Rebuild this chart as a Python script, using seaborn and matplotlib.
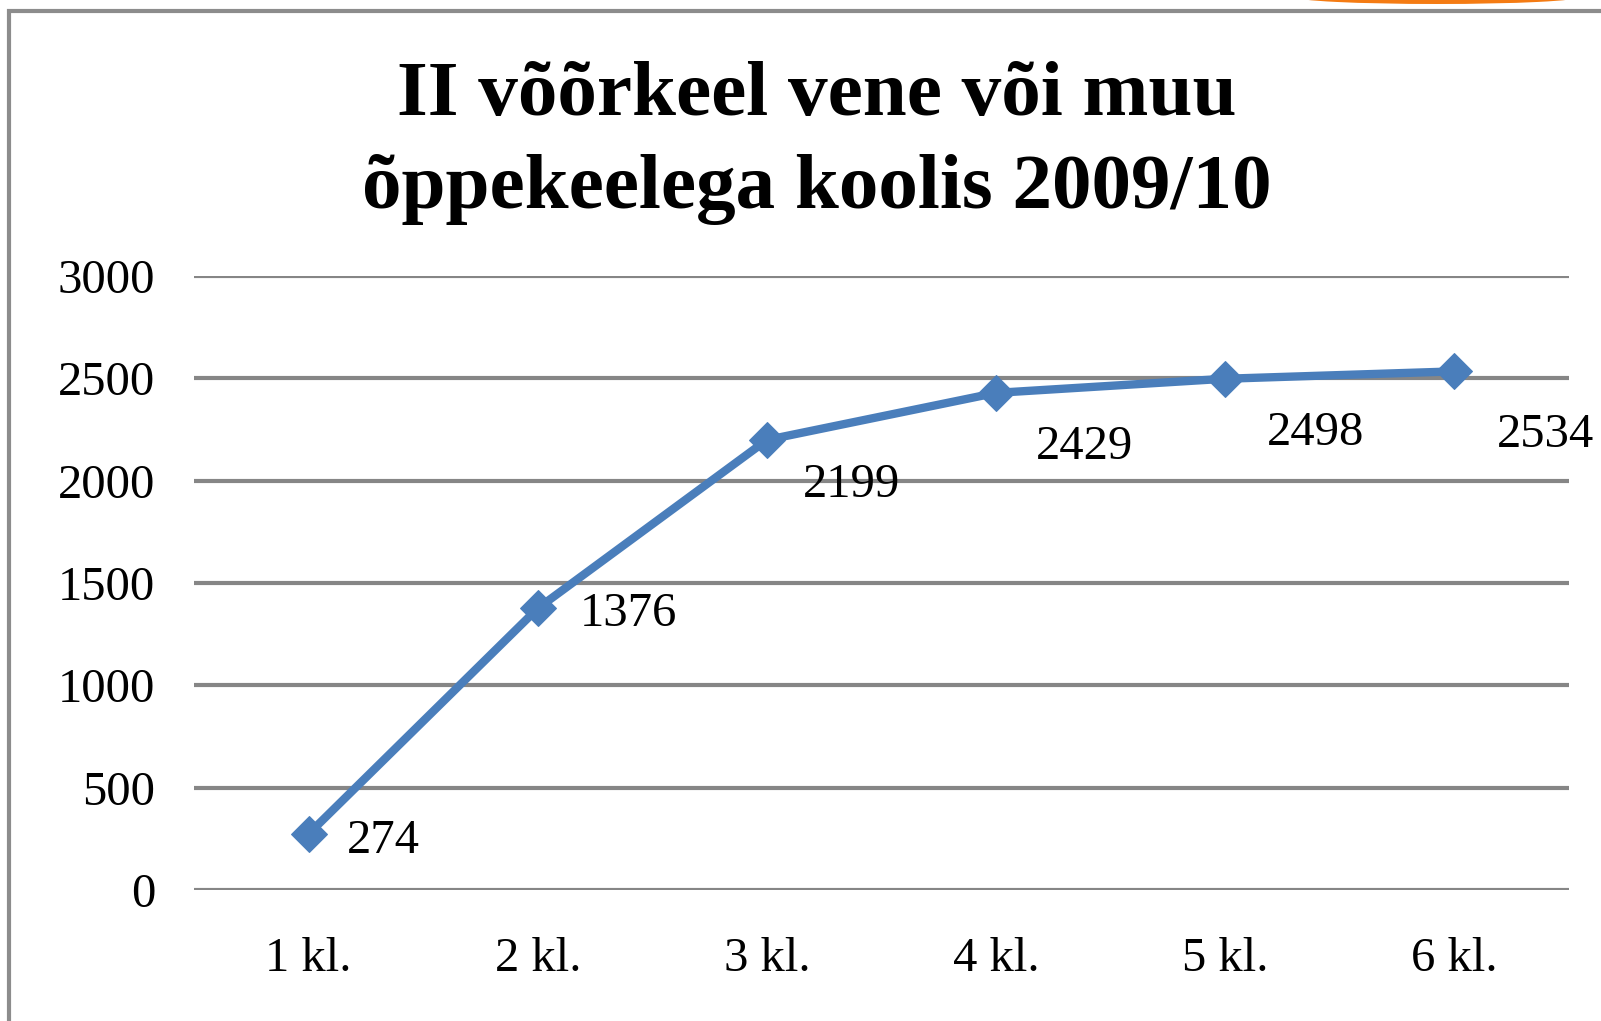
import matplotlib
matplotlib.use("Agg")
import matplotlib.pyplot as plt
import seaborn as sns
import pandas as pd
from matplotlib.patches import Rectangle, Ellipse

categories = ["1 kl.", "2 kl.", "3 kl.", "4 kl.", "5 kl.", "6 kl."]
values = [274, 1376, 2199, 2429, 2498, 2534]
yticks = [0, 500, 1000, 1500, 2000, 2500, 3000]
title = "II võõrkeel vene või muu\nõppekeelega koolis 2009/10"

# label offsets in pixels (dx, dy)
label_offsets = [(38, -7), (42, -6), (36, -45), (40, -54), (42, -54), (42, -64)]

sns.set_theme(style="white")
plt.rcParams["font.family"] = ["Liberation Serif", "DejaVu Serif"]

W, H = 1601, 1021
fig = plt.figure(figsize=(W / 100, H / 100), dpi=100)
fig.patch.set_facecolor("white")

ax = fig.add_axes([194 / W, 1 - 890 / H, (1569 - 194) / W, (890 - 276) / H])

df = pd.DataFrame({"klass": categories, "arv": values})
blue = "#4A7EBB"
sns.lineplot(data=df, x="klass", y="arv", ax=ax, color=blue, linewidth=6,
             marker="D", markersize=18, markeredgecolor=blue, markerfacecolor=blue,
             solid_joinstyle="round", solid_capstyle="round")

ax.set_xlim(-0.5, len(categories) - 0.5)
ax.set_ylim(0, 3000)
ax.set_yticks(yticks)
ax.set_yticklabels([str(v) for v in yticks])
ax.set_xlabel("")
ax.set_ylabel("")
for s in ax.spines.values():
    s.set_visible(False)
ax.grid(False)
for v in yticks:
    ax.axhline(v, color="#868686", linewidth=3, zorder=0)
ax.tick_params(axis="y", length=0, pad=28, labelsize=35, colors="black")
ax.tick_params(axis="x", length=0, pad=34, labelsize=35, colors="black")

for i, (v, (dx, dy)) in enumerate(zip(values, label_offsets)):
    ax.annotate(str(v), xy=(i, v), xytext=(dx, dy), textcoords="offset pixels",
                ha="left", va="center", fontsize=35, color="black")

fig.text(817 / W, 1 - 143 / H, title, ha="center", va="center",
         fontsize=57, fontweight="bold", linespacing=1.4, color="black")

# outer frame
fig.patches.append(Rectangle((8.5 / W, -0.1), 1.2, 1 - 11.5 / H + 0.1,
                             transform=fig.transFigure, fill=False,
                             edgecolor="#8C8C8C", linewidth=3, zorder=0))
fig.patches.append(Ellipse((1437 / W, 1 + 3 / H), 285 / W, 14 / H,
                           transform=fig.transFigure, facecolor="#F47B13",
                           edgecolor="none", zorder=1))

fig.savefig("out.png", dpi=100)
